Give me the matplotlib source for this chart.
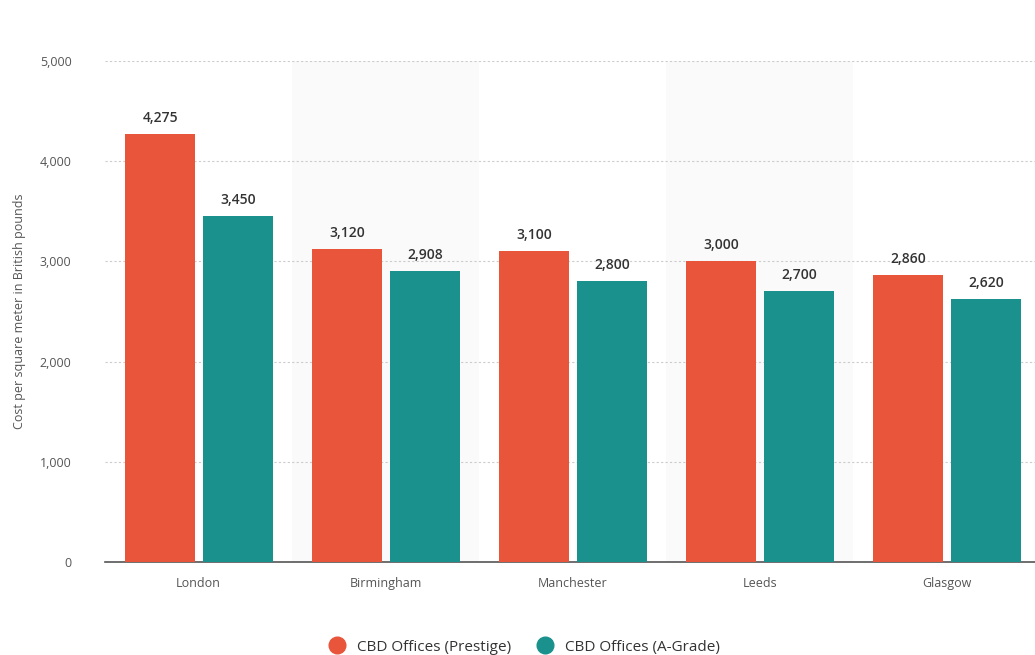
import matplotlib.pyplot as plt
import numpy as np
from matplotlib.lines import Line2D

plt.rcParams['font.family'] = ['Open Sans', 'DejaVu Sans']

cities = ['London', 'Birmingham', 'Manchester', 'Leeds', 'Glasgow']
prestige = [4275, 3120, 3100, 3000, 2860]
a_grade = [3450, 2908, 2800, 2700, 2620]

orange = '#E8553A'
teal = '#1A918C'

fig = plt.figure(figsize=(10.35, 6.55), dpi=100)
ax = fig.add_axes([0.1014, 0.142, 0.9036, 0.765])

x = np.arange(len(cities))
w = 0.375
# alternating background bands
for i in x:
    if i % 2 == 1:
        ax.axvspan(i - 0.5, i + 0.5, color='#FAFAFA', zorder=0, lw=0)

b1 = ax.bar(x - 0.205, prestige, w, color=orange, zorder=3)
b2 = ax.bar(x + 0.21, a_grade, w, color=teal, zorder=3)

for bars in (b1, b2):
    for r in bars:
        ax.text(r.get_x() + r.get_width() / 2, r.get_height() + 90,
                f'{int(r.get_height()):,}', ha='center', va='bottom',
                fontsize=10, color='#333333', fontweight='semibold')

ax.set_xlim(-0.5, 4.5)
ax.set_ylim(0, 5000)
ax.set_yticks(range(0, 5001, 1000))
ax.set_yticklabels([f'{v:,}' for v in range(0, 5001, 1000)])
ax.set_xticks(x)
ax.set_xticklabels(cities)
ax.yaxis.grid(True, linestyle=(0, (2, 2)), color='#CCCCCC', lw=0.8, zorder=1)
ax.tick_params(axis='both', length=0, labelsize=9, colors='#555555')
ax.tick_params(axis='y', pad=24)
ax.tick_params(axis='x', pad=11)
for s in ['top', 'right', 'left']:
    ax.spines[s].set_visible(False)
ax.spines['bottom'].set_color('#555555')
ax.spines['bottom'].set_linewidth(1.2)
ax.set_ylabel('Cost per square meter in British pounds', fontsize=9,
              color='#555555', labelpad=10)

handles = [Line2D([], [], marker='o', ls='', color=orange, markersize=12),
           Line2D([], [], marker='o', ls='', color=teal, markersize=12)]
fig.legend(handles, ['CBD Offices (Prestige)', 'CBD Offices (A-Grade)'],
           loc='center', bbox_to_anchor=(0.503, 0.012), ncol=2, frameon=False,
           fontsize=11, handletextpad=0.3, columnspacing=1.2,
           labelcolor='#333333')

fig.savefig('out.png', dpi=100)
